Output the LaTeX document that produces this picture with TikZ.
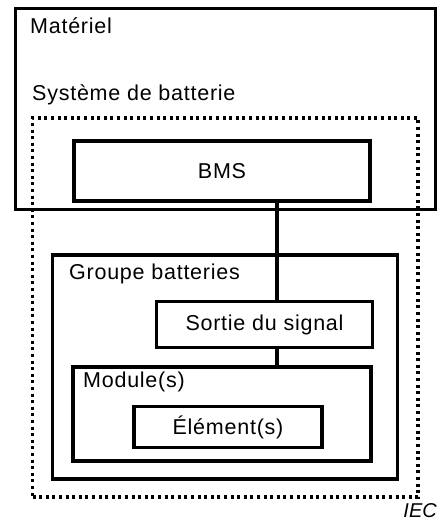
\documentclass[tikz,border=0pt]{standalone}
\usepackage{fontspec}
\setmainfont{Liberation Sans}[LetterSpace=3.5]
\newfontfamily\iecfont{Liberation Sans}
\usetikzlibrary{calc}
\tikzset{
  bx/.style={draw=black, line width=3.6pt, inner sep=0pt, align=center},
  dotbx/.style={draw=black, line width=3.2pt, dash pattern=on 3pt off 3.6pt, inner sep=0pt},
  lbl/.style={anchor=base west, inner sep=0pt},
  conn/.style={draw=black, line width=3.6pt},
}
\begin{document}
\begin{tikzpicture}[x=1pt, y=-1pt, font=\fontsize{21.5}{25}\selectfont]
  \useasboundingbox (0,0) rectangle (440,521);
  \node[bx, minimum width=420pt, minimum height=201pt] (mat) at (225.5,109) {};
  \node[dotbx, minimum width=385.5pt, minimum height=379pt] (sys) at (225.25,307.5) {};
  \node[bx, minimum width=296pt, minimum height=59.5pt, fill=white] (bms) at (222,171) {BMS};
  \node[bx, minimum width=345pt, minimum height=223.5pt] (grp) at (225,367) {};
  \node[bx, minimum width=216pt, minimum height=46pt] (sig) at (264.5,324.5) {Sortie du signal};
  \node[bx, minimum width=298pt, minimum height=94pt] (mod) at (222,414) {};
  \node[bx, minimum width=188.5pt, minimum height=41pt] (elt) at (228,427) {Élément(s)};
  \node[lbl] (matl) at (30,34) {Matériel};
  \node[lbl] (sysl) at (32,101) {Système de batterie};
  \node[lbl] (grpl) at (69,279) {Groupe batteries};
  \node[lbl] (modl) at (83,387) {Module(s)};
  \node[anchor=base east, inner sep=0pt, font=\fontsize{20}{24}\iecfont\itshape] (iec) at (437,517) {IEC};
  % signal line
  \coordinate (tap) at (277,0);
  \draw[conn] (bms.south -| tap) -- (sig.north -| tap);
  \draw[conn] (sig.south -| tap) -- (mod.north -| tap);
\end{tikzpicture}
\end{document}
